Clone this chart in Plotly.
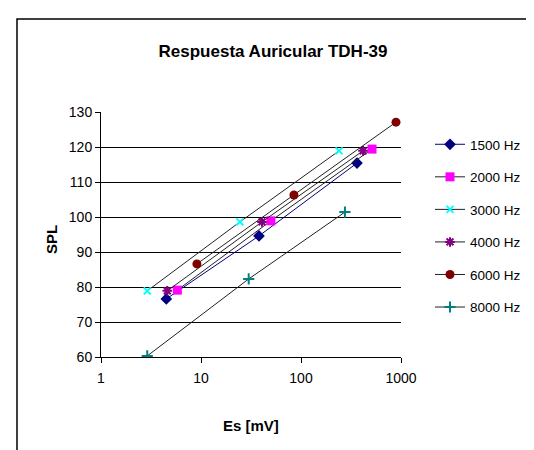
import plotly.graph_objects as go

title = "Respuesta Auricular TDH-39"
series_names = ["1500 Hz", "2000 Hz", "3000 Hz", "4000 Hz", "6000 Hz", "8000 Hz"]

es_1500 = [4.5, 38, 363]
spl_1500 = [76.6, 94.6, 115.4]
es_2000 = [5.8, 50, 513]
spl_2000 = [79.1, 98.9, 119.4]
es_3000 = [2.9, 24.5, 240]
spl_3000 = [78.9, 98.6, 118.9]
es_4000 = [4.6, 40.7, 417]
spl_4000 = [78.9, 98.6, 118.9]
es_6000 = [9.1, 85, 891]
spl_6000 = [86.6, 106.3, 127.1]
es_8000 = [2.9, 30, 275]
spl_8000 = [60.3, 82.3, 101.4]

x_ticks = [1, 10, 100, 1000]
x_tick_labels = ["1", "10", "100", "1000"]
y_ticks = [60, 70, 80, 90, 100, 110, 120, 130]
y_grid = [70, 80, 90, 100, 110, 120]

xs = [es_1500, es_2000, es_3000, es_4000, es_6000, es_8000]
ys = [spl_1500, spl_2000, spl_3000, spl_4000, spl_6000, spl_8000]

styles = [
    dict(line="#000080", symbol="diamond", color="#000080", size=9, lw=0),
    dict(line="#222222", symbol="square", color="#FF00FF", size=9, lw=0),
    dict(line="#222222", symbol="x-thin-open", color="#00FFFF", size=7, lw=2),
    dict(line="#222222", symbol="asterisk-open", color="#800080", size=8, lw=2),
    dict(line="#222222", symbol="circle", color="#800000", size=9, lw=0),
    dict(line="#222222", symbol="cross-thin-open", color="#008080", size=8, lw=2),
]

FONT = "Liberation Sans, Arial, sans-serif"

fig = go.Figure()
# invisible trace to carry the grid axis
fig.add_trace(go.Scatter(x=[1], y=[60], yaxis="y2", mode="markers",
                         marker=dict(opacity=0), showlegend=False, hoverinfo="skip"))
for name, x, y, s in zip(series_names, xs, ys, styles):
    fig.add_trace(go.Scatter(
        x=x, y=y, name=name, mode="lines+markers", legendgroup=name,
        line=dict(color=s["line"], width=1),
        marker=dict(symbol=s["symbol"], color=s["color"], size=s["size"],
                    line=dict(color=s["color"], width=s["lw"])),
    ))

# plot area in pixels: x 93..393, y 104..349
L, R, T, B = 93, 393, 104, 349
W, H = 534, 450
pw, ph = R - L, B - T

def px(xp):
    return (xp - L) / pw

def py(yp):
    return (B - yp) / ph

fig.update_layout(
    width=W, height=H,
    margin=dict(l=L, r=W - R, t=T, b=H - B, autoexpand=False),
    paper_bgcolor="white", plot_bgcolor="white",
    font=dict(family=FONT, size=14, color="black"),
    title=dict(text="<b>" + title + "</b>", x=265 / W, xanchor="center",
               y=1 - 43 / H, yanchor="middle", font=dict(size=17, family=FONT)),
    showlegend=True,
    legend=dict(x=px(422), xanchor="left", y=py(121), yanchor="top",
                tracegroupgap=12, font=dict(size=13.5, family=FONT),
                bgcolor="rgba(0,0,0,0)"),
    xaxis=dict(type="log", range=[0, 3], tickvals=x_ticks, ticktext=x_tick_labels,
               showgrid=False, showline=True, linecolor="black", linewidth=1,
               ticks="outside", ticklen=5, tickcolor="black", ticklabelstandoff=3,
               zeroline=False),
    yaxis=dict(range=[60, 130], tickvals=y_ticks, showgrid=False,
               showline=True, linecolor="black", linewidth=1,
               ticks="outside", ticklen=5, tickcolor="black", zeroline=False),
    yaxis2=dict(range=[60, 130], overlaying="y", tickvals=y_grid, showgrid=True,
                gridcolor="black", gridwidth=1, showticklabels=False, ticks="",
                showline=False, zeroline=False, layer="below traces"),
    shapes=[dict(type="rect", xref="paper", yref="paper",
                 x0=px(9), x1=px(545), y0=py(11), y1=py(465),
                 line=dict(color="black", width=1.5), layer="below")],
    annotations=[
        dict(text="<b>Es [mV]</b>", xref="paper", yref="paper", x=px(243), y=py(417),
             showarrow=False, xanchor="center", yanchor="middle", font=dict(size=15)),
        dict(text="<b>SPL</b>", xref="paper", yref="paper", x=px(43), y=py(232),
             showarrow=False, textangle=-90, xanchor="center", yanchor="middle",
             font=dict(size=15)),
    ],
)

fig.write_html("out.html")
